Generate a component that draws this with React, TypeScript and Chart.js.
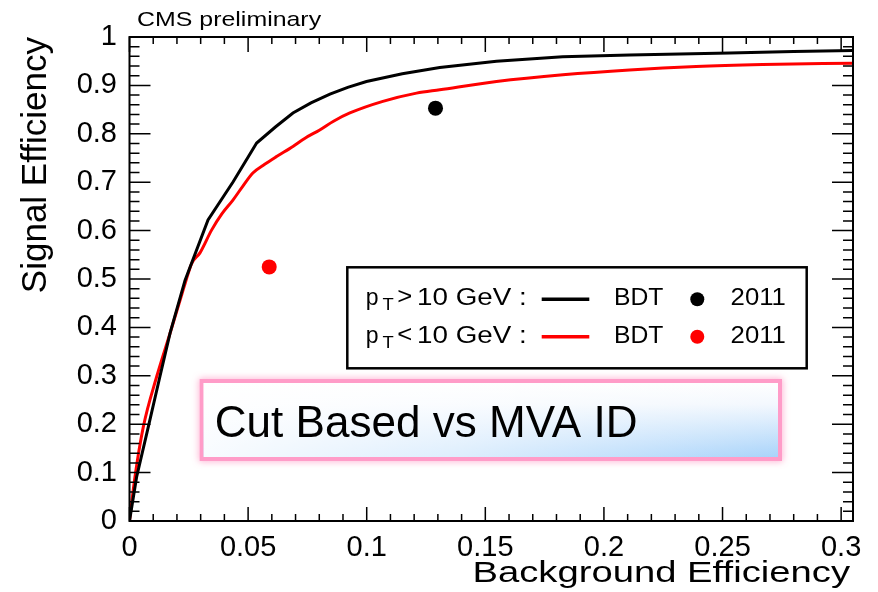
import React, { useEffect, useRef } from 'react';
import { Chart, registerables } from 'chart.js';

Chart.register(...registerables);

// ---- Data ----
// BDT, pT > 10 GeV (black curve)
const bgEffHighPt = [0, 0.003, 0.0079, 0.0128, 0.0171, 0.0234, 0.0331, 0.0437, 0.0536, 0.0615, 0.0689, 0.0765, 0.0845, 0.092, 0.0999, 0.115, 0.1308, 0.1547, 0.1826, 0.2108, 0.253, 0.28, 0.305];
const sigEffHighPt = [0, 0.091, 0.194, 0.298, 0.388, 0.497, 0.622, 0.701, 0.781, 0.814, 0.843, 0.864, 0.882, 0.896, 0.908, 0.924, 0.937, 0.95, 0.959, 0.963, 0.967, 0.97, 0.972];
// BDT, pT < 10 GeV (red curve)
const bgEffLowPt = [0, 0.0023, 0.0058, 0.0115, 0.0171, 0.0213, 0.0234, 0.0262, 0.0297, 0.0346, 0.039, 0.0436, 0.0478, 0.052, 0.057, 0.062, 0.0689, 0.074, 0.0802, 0.086, 0.0929, 0.1068, 0.121, 0.1308, 0.1547, 0.1827, 0.2108, 0.2389, 0.2669, 0.305];
const sigEffLowPt = [0, 0.091, 0.194, 0.299, 0.388, 0.456, 0.49, 0.532, 0.554, 0.601, 0.635, 0.663, 0.692, 0.719, 0.737, 0.753, 0.774, 0.791, 0.808, 0.826, 0.843, 0.867, 0.884, 0.891, 0.908, 0.922, 0.932, 0.939, 0.943, 0.946];
// 2011 cut-based working points
const cutBgEffHighPt = [0.129];
const cutSigEffHighPt = [0.853];
const cutBgEffLowPt = [0.0589];
const cutSigEffLowPt = [0.525];

const xTickValues = [0, 0.05, 0.1, 0.15, 0.2, 0.25, 0.3];
const xTickLabels = ['0', '0.05', '0.1', '0.15', '0.2', '0.25', '0.3'];
const yTickValues = [0, 0.1, 0.2, 0.3, 0.4, 0.5, 0.6, 0.7, 0.8, 0.9, 1];
const yTickLabels = ['0', '0.1', '0.2', '0.3', '0.4', '0.5', '0.6', '0.7', '0.8', '0.9', '1'];

const FAMILY = "'Liberation Sans', Arial, Helvetica, sans-serif";

function toPoints(xs: number[], ys: number[]) {
  return xs.map((v, i) => ({ x: v, y: ys[i] }));
}

// Draw text so that its ink spans [x0, x1], baseline at y
function fitText(ctx: CanvasRenderingContext2D, text: string, x0: number, x1: number, y: number, size: number, color = '#000') {
  ctx.save();
  ctx.font = `${size}px ${FAMILY}`;
  ctx.fillStyle = color;
  ctx.textAlign = 'left';
  ctx.textBaseline = 'alphabetic';
  const m = ctx.measureText(text);
  const inkL = m.actualBoundingBoxLeft || 0;
  const inkW = (m.actualBoundingBoxRight || m.width) + inkL;
  const sx = (x1 - x0) / inkW;
  ctx.translate(x0 + inkL * sx, y);
  ctx.scale(sx, 1);
  ctx.fillText(text, 0, 0);
  ctx.restore();
}

const rootStylePlugin = {
  id: 'rootStyle',
  afterDatasetsDraw(chart: any) {
    const { ctx, chartArea: a } = chart;
    const xs = chart.scales.x;
    const ys = chart.scales.y;
    const ds = chart.data.datasets;
    ctx.save();

    // inner ticks on all four sides
    ctx.strokeStyle = '#000';
    ctx.lineWidth = 1.5;
    ctx.beginPath();
    for (let i = 0; i <= 30; i++) {
      const px = xs.getPixelForValue(i / 100);
      const major = i % 5 === 0;
      ctx.moveTo(px, a.bottom);
      ctx.lineTo(px, a.bottom - (major ? 14 : 7));
      ctx.moveTo(px, a.top);
      ctx.lineTo(px, a.top + (major ? 15 : 7));
    }
    for (let i = 0; i <= 50; i++) {
      const py = ys.getPixelForValue(i / 50);
      const len = i % 5 === 0 ? 21 : 10;
      ctx.moveTo(a.left, py);
      ctx.lineTo(a.left + len, py);
      ctx.moveTo(a.right, py);
      ctx.lineTo(a.right - len, py);
    }
    ctx.stroke();

    // frame
    ctx.lineWidth = 2;
    ctx.strokeRect(a.left, a.top, a.right - a.left, a.bottom - a.top);

    // texts outside frame
    fitText(ctx, 'CMS preliminary', 138.3, 321.7, 25.7, 21);
    fitText(ctx, 'Background Efficiency', 475, 850, 581.7, 30);

    // legend box
    ctx.fillStyle = '#fff';
    ctx.fillRect(347.3, 267.3, 459.4, 101);
    ctx.strokeStyle = '#000';
    ctx.lineWidth = 2.5;
    ctx.strokeRect(347.3, 267.3, 459.4, 101);

    const rows = [
      { base: 305, mid: 299.3, sign: '>', line: ds[0].borderColor, dot: ds[2].backgroundColor },
      { base: 342.5, mid: 336.7, sign: '<', line: ds[1].borderColor, dot: ds[3].backgroundColor },
    ];
    rows.forEach((r) => {
      fitText(ctx, 'p', 366.7, 377.7, r.base, 23);
      fitText(ctx, 'T', 382.5, 394, r.base + 5, 16);
      fitText(ctx, r.sign, 398.3, 411.7, r.base - 1, 23);
      fitText(ctx, '10 GeV :', 418.3, 525, r.base, 23);
      ctx.strokeStyle = r.line;
      ctx.lineWidth = 3.5;
      ctx.beginPath();
      ctx.moveTo(541.7, r.mid);
      ctx.lineTo(589.3, r.mid);
      ctx.stroke();
      fitText(ctx, 'BDT', 615, 663.3, r.base, 23);
      ctx.fillStyle = r.dot;
      ctx.beginPath();
      ctx.arc(697.3, r.mid, 7, 0, Math.PI * 2);
      ctx.fill();
      fitText(ctx, '2011', 731.7, 785, r.base, 23);
    });

    // "Cut Based vs MVA ID" box
    const bx = 201.7, by = 381, bw = 578.3, bh = 78;
    ctx.save();
    ctx.shadowColor = 'rgba(255,110,170,0.75)';
    ctx.shadowBlur = 7;
    ctx.strokeStyle = '#ff9cc8';
    ctx.lineWidth = 4;
    ctx.strokeRect(bx, by, bw, bh);
    ctx.restore();
    const gv = ctx.createLinearGradient(0, by, 0, by + bh);
    gv.addColorStop(0, '#ffffff');
    gv.addColorStop(0.3, '#f3f8fe');
    gv.addColorStop(1, '#a6d2fa');
    ctx.fillStyle = gv;
    ctx.fillRect(bx + 2, by + 2, bw - 4, bh - 4);
    const gh = ctx.createLinearGradient(bx, 0, bx + bw, 0);
    gh.addColorStop(0, 'rgba(255,255,255,0.92)');
    gh.addColorStop(0.45, 'rgba(255,255,255,0.6)');
    gh.addColorStop(1, 'rgba(255,255,255,0)');
    ctx.fillStyle = gh;
    ctx.fillRect(bx + 2, by + 2, bw - 4, bh - 4);
    fitText(ctx, 'Cut Based vs MVA ID', 216.7, 635.7, 436.7, 44);

    ctx.restore();
  },
};

export default function App() {
  const canvasRef = useRef<HTMLCanvasElement | null>(null);

  useEffect(() => {
    document.body.style.margin = '0';
    const canvas = canvasRef.current;
    if (!canvas) return;
    const chart = new Chart(canvas, {
      type: 'scatter',
      data: {
        datasets: [
          {
            label: 'pT > 10 GeV : BDT',
            data: toPoints(bgEffHighPt, sigEffHighPt),
            showLine: true,
            borderColor: '#000000',
            backgroundColor: '#000000',
            borderWidth: 3,
            pointRadius: 0,
            tension: 0,
          },
          {
            label: 'pT < 10 GeV : BDT',
            data: toPoints(bgEffLowPt, sigEffLowPt),
            showLine: true,
            borderColor: '#ff0000',
            backgroundColor: '#ff0000',
            borderWidth: 3,
            pointRadius: 0,
            cubicInterpolationMode: 'monotone',
          },
          {
            label: 'pT > 10 GeV : 2011',
            data: toPoints(cutBgEffHighPt, cutSigEffHighPt),
            backgroundColor: '#000000',
            borderColor: '#000000',
            borderWidth: 0,
            pointRadius: 7.5,
          },
          {
            label: 'pT < 10 GeV : 2011',
            data: toPoints(cutBgEffLowPt, cutSigEffLowPt),
            backgroundColor: '#ff0000',
            borderColor: '#ff0000',
            borderWidth: 0,
            pointRadius: 7.5,
          },
        ],
      },
      options: {
        responsive: false,
        devicePixelRatio: 1,
        animation: false,
        layout: { padding: { left: 0, right: 25, top: 37, bottom: 0 } },
        plugins: {
          legend: { display: false },
          tooltip: { enabled: false },
          title: { display: false },
        },
        scales: {
          x: {
            type: 'linear',
            min: 0,
            max: 0.305,
            grid: { display: false },
            border: { display: false },
            afterBuildTicks: (scale: any) => {
              scale.ticks = xTickValues.map((v) => ({ value: v }));
            },
            afterFit: (scale: any) => {
              scale.height = 71;
            },
            ticks: {
              autoSkip: false,
              maxRotation: 0,
              minRotation: 0,
              includeBounds: false,
              padding: 2,
              color: '#000',
              font: { family: FAMILY, size: 29 },
              callback: (_v: any, i: number) => xTickLabels[i],
            },
          },
          y: {
            type: 'linear',
            min: 0,
            max: 1,
            grid: { display: false },
            border: { display: false },
            afterBuildTicks: (scale: any) => {
              scale.ticks = yTickValues.map((v) => ({ value: v }));
            },
            afterFit: (scale: any) => {
              scale.width = 129.5;
            },
            ticks: {
              autoSkip: false,
              includeBounds: false,
              padding: 4.5,
              color: '#000',
              font: { family: FAMILY, size: 29 },
              callback: (_v: any, i: number) => yTickLabels[i],
            },
            title: {
              display: true,
              text: 'Signal Efficiency',
              align: 'end',
              color: '#000',
              font: { family: FAMILY, size: 35 },
              padding: { top: 15.5, bottom: 0 },
            },
          },
        },
      },
      plugins: [rootStylePlugin],
    } as any);
    return () => chart.destroy();
  }, []);

  return (
    <div style={{ width: 878, height: 592, background: '#fff' }}>
      <canvas ref={canvasRef} width={878} height={592} style={{ display: 'block', width: 878, height: 592 }} />
    </div>
  );
}
